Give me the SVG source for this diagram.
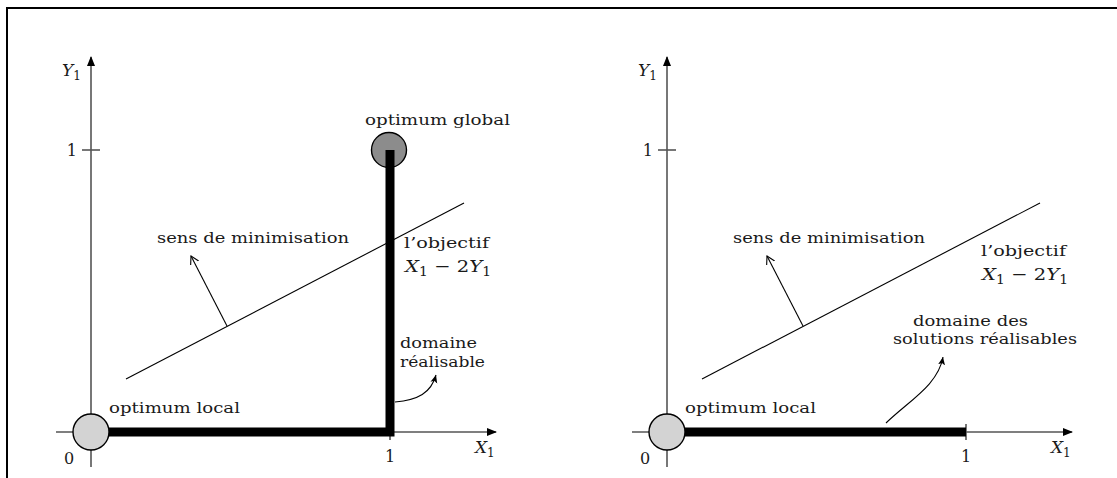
<svg xmlns="http://www.w3.org/2000/svg" width="1117" height="478" viewBox="0 0 1117 478">
<style>
text{font-family:"DejaVu Serif","Liberation Serif",serif;font-size:15px;fill:#1a1a1a}
.m{font-size:17px}
.n{font-size:16px}
.it{font-style:italic}
.sub{font-size:12px}
.axis{stroke:#555;stroke-width:1.6;fill:none}
.obj{stroke:#000;stroke-width:1.1;fill:none}
.dom{stroke:#000;stroke-width:9;fill:none;stroke-linejoin:miter;stroke-linecap:butt}
.frame{stroke:#000;stroke-width:2;fill:none}
</style>
<defs>
<marker id="axh" markerWidth="10" markerHeight="8" refX="9" refY="4" orient="auto" markerUnits="userSpaceOnUse">
<path d="M0,0 L10,4 L0,8 Z" fill="#000"/>
</marker>
<marker id="open" markerWidth="10" markerHeight="10" refX="8" refY="5" orient="auto" markerUnits="userSpaceOnUse">
<path d="M0,0.5 L8,5 L0,9.5" fill="none" stroke="#000" stroke-width="1.1"/>
</marker>
<marker id="stl" markerWidth="9" markerHeight="8" refX="8" refY="4" orient="auto" markerUnits="userSpaceOnUse">
<path d="M0,0.5 L8,4 L0,7.5 L2,4 Z" fill="#000"/>
</marker>
</defs>
<path class="frame" d="M7,478 V8 H1117"/>

<g id="left-panel">
<g id="left-axes">
<line class="axis" x1="91" y1="467" x2="91" y2="57" marker-end="url(#axh)"/>
<line class="axis" x1="56" y1="432" x2="496" y2="432" marker-end="url(#axh)"/>
<line class="axis" x1="82" y1="150" x2="100" y2="150"/>
<line class="axis" x1="390" y1="424" x2="390" y2="440"/>
<text class="m" x="62" y="76"><tspan class="it">Y</tspan><tspan class="sub" dy="4">1</tspan></text>
<text class="n" x="77" y="156" text-anchor="end">1</text>
<text class="n" x="69" y="464" text-anchor="middle">0</text>
<text class="n" x="390" y="462" text-anchor="middle">1</text>
<text class="m" x="475" y="453"><tspan class="it">X</tspan><tspan class="sub" dy="4">1</tspan></text>
</g>
<g id="left-global">
<circle cx="389" cy="150" r="17.5" fill="#8c8c8c" stroke="#000" stroke-width="1.4"/>
<text x="365" y="125" textLength="145" lengthAdjust="spacingAndGlyphs">optimum global</text>
</g>
<g id="left-domain">
<polyline class="dom" points="91,432 390,432 390,150"/>
<text x="400" y="348" textLength="77" lengthAdjust="spacingAndGlyphs">domaine</text>
<text x="400" y="367" textLength="85" lengthAdjust="spacingAndGlyphs">réalisable</text>
</g>
<g id="left-local">
<circle cx="91" cy="432" r="18" fill="#d3d3d3" stroke="#000" stroke-width="1.4"/>
<text x="109" y="413" textLength="131" lengthAdjust="spacingAndGlyphs">optimum local</text>
</g>
<g id="left-objective">
<line class="obj" x1="126" y1="379" x2="464" y2="203"/>
<text x="404" y="248" textLength="85" lengthAdjust="spacingAndGlyphs">l’objectif</text>
<text class="m" x="405" y="272" textLength="86" lengthAdjust="spacingAndGlyphs"><tspan class="it">X</tspan><tspan class="sub" dy="4">1</tspan><tspan dy="-4"> − 2</tspan><tspan class="it">Y</tspan><tspan class="sub" dy="4">1</tspan></text>
</g>
<g id="left-direction">
<text x="157" y="243" textLength="192" lengthAdjust="spacingAndGlyphs">sens de minimisation</text>
</g>
</g>

<g id="right-panel">
<g id="right-axes">
<line class="axis" x1="667" y1="467" x2="667" y2="57" marker-end="url(#axh)"/>
<line class="axis" x1="632" y1="432" x2="1072" y2="432" marker-end="url(#axh)"/>
<line class="axis" x1="658" y1="150" x2="676" y2="150"/>
<line class="axis" x1="966" y1="424" x2="966" y2="440"/>
<text class="m" x="638" y="76"><tspan class="it">Y</tspan><tspan class="sub" dy="4">1</tspan></text>
<text class="n" x="653" y="156" text-anchor="end">1</text>
<text class="n" x="645" y="464" text-anchor="middle">0</text>
<text class="n" x="966" y="462" text-anchor="middle">1</text>
<text class="m" x="1051" y="453"><tspan class="it">X</tspan><tspan class="sub" dy="4">1</tspan></text>
</g>
<g id="right-domain">
<line class="dom" x1="667" y1="432" x2="966" y2="432"/>
<text x="913" y="326" textLength="115" lengthAdjust="spacingAndGlyphs">domaine des</text>
<text x="893" y="344" textLength="184" lengthAdjust="spacingAndGlyphs">solutions réalisables</text>
</g>
<g id="right-local">
<circle cx="667" cy="432" r="18" fill="#d3d3d3" stroke="#000" stroke-width="1.4"/>
<text x="685" y="413" textLength="131" lengthAdjust="spacingAndGlyphs">optimum local</text>
</g>
<g id="right-objective">
<line class="obj" x1="702" y1="379" x2="1040" y2="203"/>
<text x="981" y="256" textLength="85" lengthAdjust="spacingAndGlyphs">l’objectif</text>
<text class="m" x="982" y="280" textLength="86" lengthAdjust="spacingAndGlyphs"><tspan class="it">X</tspan><tspan class="sub" dy="4">1</tspan><tspan dy="-4"> − 2</tspan><tspan class="it">Y</tspan><tspan class="sub" dy="4">1</tspan></text>
</g>
<g id="right-direction">
<text x="733" y="243" textLength="192" lengthAdjust="spacingAndGlyphs">sens de minimisation</text>
</g>
</g>

<g id="connectors">
<line class="obj" x1="227" y1="326" x2="191" y2="256" marker-end="url(#open)"/>
<path class="obj" d="M395,402 C418,400 431,393 436,375" marker-end="url(#stl)"/>
<line class="obj" x1="803" y1="326" x2="767" y2="256" marker-end="url(#open)"/>
<path class="obj" d="M886,423 C910,400 938,385 943,357" marker-end="url(#stl)"/>
</g>
</svg>
